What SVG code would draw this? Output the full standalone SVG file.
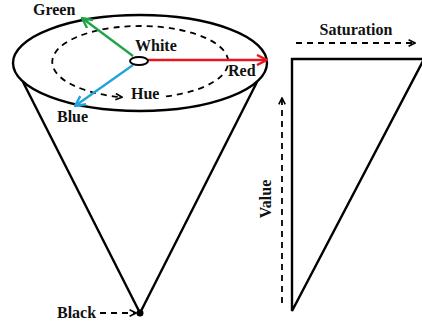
<svg xmlns="http://www.w3.org/2000/svg" width="422" height="325" viewBox="0 0 422 325">
<style>
text{font-family:"Liberation Serif","Times New Roman",serif;font-weight:bold;font-size:16px;fill:#111}
.solid{fill:none;stroke:#000;stroke-width:2.4}
.dash{fill:none;stroke:#000;stroke-width:1.8;stroke-dasharray:6 5}
</style>
<defs>
<marker id="ahR" viewBox="0 0 12 12" refX="11" refY="6" markerWidth="12" markerHeight="12" markerUnits="userSpaceOnUse" orient="auto"><path d="M1,1 L11,6 L1,11" fill="none" stroke="#e8141c" stroke-width="2.4"/></marker>
<marker id="ahG" viewBox="0 0 12 12" refX="11" refY="6" markerWidth="12" markerHeight="12" markerUnits="userSpaceOnUse" orient="auto"><path d="M1,1 L11,6 L1,11" fill="none" stroke="#1fa548" stroke-width="2.4"/></marker>
<marker id="ahB" viewBox="0 0 12 12" refX="11" refY="6" markerWidth="12" markerHeight="12" markerUnits="userSpaceOnUse" orient="auto"><path d="M1,1 L11,6 L1,11" fill="none" stroke="#22a3dc" stroke-width="2.4"/></marker>
<marker id="ahK" viewBox="0 0 10 10" refX="9" refY="5" markerWidth="8" markerHeight="8" markerUnits="userSpaceOnUse" orient="auto"><path d="M1,1 L9,5 L1,9" fill="none" stroke="#000" stroke-width="2"/></marker>
</defs>

<g id="cone">
<line class="solid" x1="23" y1="82" x2="140" y2="313" stroke-width="2"/>
<line class="solid" x1="257" y1="82" x2="140" y2="313" stroke-width="2"/>
<ellipse class="solid" cx="140" cy="63" rx="127" ry="48" stroke-width="2.6"/>
</g>

<g id="hue">
<path class="dash" d="M166 96.4 A88 36 0 1 0 122 97.2" marker-end="url(#ahK)"/>
<text x="131" y="99">Hue</text>
</g>

<g id="connectors">
<line x1="148" y1="60" x2="267" y2="60" stroke="#e8141c" stroke-width="2.4" marker-end="url(#ahR)"/>
<line x1="133" y1="56" x2="82" y2="18" stroke="#1fa548" stroke-width="2.4" marker-end="url(#ahG)"/>
<line x1="133" y1="65" x2="75" y2="106" stroke="#22a3dc" stroke-width="2.4" marker-end="url(#ahB)"/>
<line class="dash" x1="100" y1="313" x2="136" y2="313" marker-end="url(#ahK)"/>
<line class="dash" x1="296" y1="43" x2="415" y2="43" marker-end="url(#ahK)"/>
<line class="dash" x1="282" y1="303" x2="282" y2="98" marker-end="url(#ahK)"/>
</g>

<g id="white">
<ellipse cx="139" cy="61" rx="9" ry="4" fill="#fff" stroke="#000" stroke-width="2"/>
<text x="135" y="51">White</text>
</g>
<g id="red"><text x="228" y="76">Red</text></g>
<g id="green"><text x="33" y="15">Green</text></g>
<g id="blue"><text x="57" y="122">Blue</text></g>
<g id="black">
<circle cx="140" cy="313" r="3.5" fill="#000"/>
<text x="57" y="318">Black</text>
</g>

<g id="triangle">
<path class="solid" d="M292 311 L292 59 L424 59 Z" stroke-width="2.6" stroke-linejoin="miter"/>
</g>
<g id="saturation"><text x="356" y="35" text-anchor="middle">Saturation</text></g>
<g id="value"><text transform="translate(271,199) rotate(-90)" text-anchor="middle">Value</text></g>
</svg>
